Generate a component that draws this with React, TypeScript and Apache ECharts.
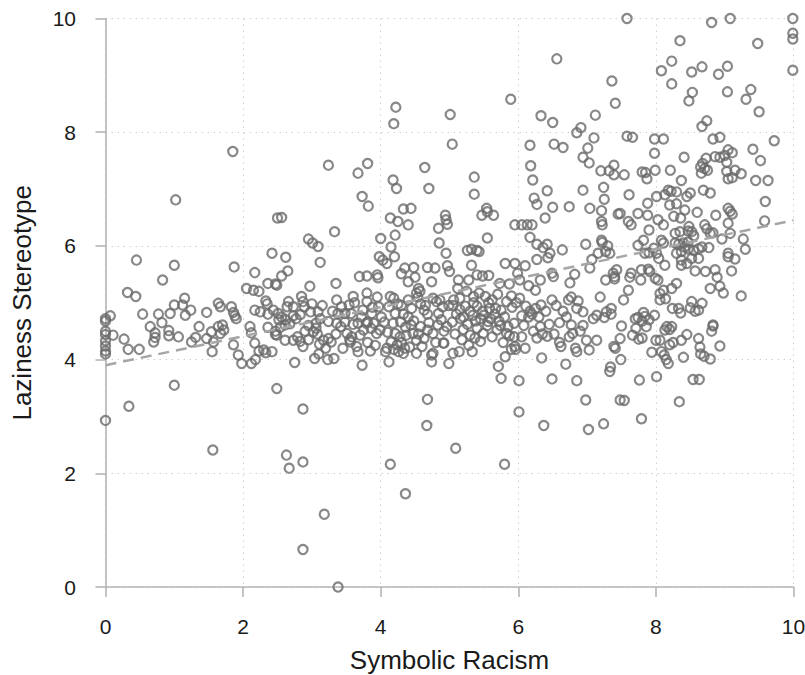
import React, { useEffect, useRef } from "react";
import * as echarts from "echarts";

// Tick values
const xTicks = [0, 2, 4, 6, 8, 10];
const yTicks = [0, 2, 4, 6, 8, 10];

// Observations grouped by Symbolic Racism range: [symbolicRacism, lazinessStereotype]
const groupA: number[][] = [
  [0,2.93],[0,4.10],[0,4.15],[0,4.24],[0,4.33],[0,4.44],[0,4.50],[0,4.68],[0,4.72],[0.07,4.77],[0.11,4.43],[0.34,3.18],[0.27,4.36],[0.33,4.18],[0.49,4.18],[0.32,5.18],[0.44,5.11],[0.45,5.75],[0.54,4.80],[0.65,4.58],[0.72,4.47],[0.70,4.31],[0.72,4.39],[0.77,4.80],[0.82,4.65],[0.94,4.81],[0.92,4.51],[0.92,4.42],[1.06,4.40],[1.0,4.96],[1.12,4.96],[1.15,5.08],[1.16,4.78],[1.24,4.87],[0.83,5.40],[1.0,5.66],[1.02,6.81],[1.85,7.66],[1.87,5.63],[1.47,4.83],[1.36,4.58],[1.25,4.31],[1.31,4.39],[1.47,4.37],[1.54,4.49],[1.55,4.14],[1.57,4.31],[1.64,4.58],[1.70,4.61],[1.67,4.46],[1.72,4.52],[1.64,4.99],[1.67,4.93],[1.83,4.93],[1.86,4.83],[1.88,4.77],[1.90,4.72],[1.86,4.26],[1.93,4.08],[1.98,3.93],[1.0,3.55],[1.56,2.41],
];
const groupB: number[][] = [
  [2.05,5.25],[2.17,5.53],[2.15,5.22],[2.23,5.20],[2.36,5.34],[2.42,5.87],[2.47,5.33],[2.33,5.03],[2.35,4.98],[2.17,4.87],[2.25,4.84],[2.36,4.80],[2.50,6.49],[2.10,4.58],[2.12,4.47],[2.36,4.57],[2.17,4.29],[2.23,4.15],[2.30,4.17],[2.33,4.12],[2.12,3.93],[2.18,4.00],[2.47,4.50],[2.47,4.44],[2.49,3.49],
  [3.24,7.42],[3.81,7.45],[3.67,7.28],[3.73,6.87],[3.82,6.70],[2.56,6.50],[3.33,6.25],[2.95,6.12],[3.01,6.05],[3.09,5.99],[3.12,5.71],[2.62,5.80],[2.65,5.56],[2.56,5.47],[2.49,5.31],[3.69,5.46],[3.80,5.47],[3.95,5.49],[3.96,5.44],[2.97,5.29],[3.35,5.34],
  [2.87,3.13],[2.63,2.32],[2.67,2.09],[2.87,2.20],[2.75,3.95],[3.73,3.90],[3.18,1.28],[2.87,0.66],[3.38,0.0],
  [2.42,4.14],[2.49,4.43],[2.54,4.57],[2.61,4.34],[2.73,4.34],[2.83,4.32],[2.87,4.23],[2.61,4.61],[2.68,4.63],[2.79,4.40],[3.02,4.49],[3.06,4.55],[3.08,4.45],[3.17,4.34],[3.24,4.37],[3.28,4.31],[3.11,4.27],[3.20,4.20],[3.04,4.02],[3.23,4.00],[3.32,4.02],[3.36,4.64],[3.42,4.58],[3.51,4.46],[3.58,4.40],[3.56,4.31],[3.65,4.23],[3.67,4.14],[3.55,4.35],[3.70,4.43],[3.75,4.52],[3.79,4.64],[3.81,4.30],[3.86,4.55],[3.94,4.46],[3.99,4.52],
  [2.44,4.87],[2.51,4.81],[2.56,4.75],[2.66,5.02],[2.64,4.93],[2.73,4.93],[2.85,5.11],[2.87,5.02],[2.89,4.93],[2.98,4.84],[3.09,4.84],[2.83,4.79],[2.73,4.77],[2.52,4.70],[2.62,4.70],[2.77,4.72],[3.36,5.05],[3.43,4.93],[3.54,4.96],[3.60,5.11],[3.38,4.81],[3.48,4.81],[3.57,4.81],[3.74,4.87],[3.80,5.17],[3.80,5.02],[3.95,5.10],[3.97,4.93],[3.87,4.81],[3.48,4.66],[3.67,4.64],[3.81,4.66],[3.90,4.64],[3.24,4.67],[3.06,4.64],
  [2.95,4.60],[3.12,4.72],[3.30,4.85],[3.15,4.95],[3.00,4.98],[3.45,4.20],[3.60,4.62],[3.72,4.75],[3.35,4.45],[3.10,4.10],[2.95,4.35],[2.90,4.50],[3.62,5.00],[3.88,4.92],[3.92,4.25],[3.85,4.15],
];
const groupC: number[][] = [
  [4.22,8.44],[4.19,8.15],[4.18,7.16],[4.23,7.01],[4.64,7.38],[4.70,7.01],[4.14,6.49],[4.25,6.43],[4.40,6.37],[4.33,6.65],[4.44,6.66],[4.21,6.19],[4.00,6.13],[4.15,5.98],[3.98,5.81],[4.03,5.75],[4.09,5.69],[4.20,5.81],[4.30,5.51],[4.35,5.61],[4.48,5.62],[4.50,5.45],[4.40,5.37],[4.68,5.62],[4.79,5.61],[4.74,5.37],[4.84,6.31],[4.94,6.54],[4.95,6.46],[4.97,6.38],[4.85,6.05],[4.95,5.87],[4.97,5.65],[5.0,5.55],[4.55,5.25],[4.57,5.20],[4.12,3.96],[4.14,2.16],[4.68,3.30],[4.67,2.84],[4.74,3.96],[4.74,4.08],[4.36,1.64],
  [4.09,4.20],[4.07,4.14],[4.19,4.18],[4.26,4.14],[4.24,4.26],[4.15,4.31],[4.33,4.11],[4.35,4.20],[4.21,4.46],[4.28,4.40],[4.37,4.43],[4.36,4.57],[4.44,4.61],[4.47,4.46],[4.52,4.34],[4.52,4.11],[4.60,4.23],[4.63,4.37],[4.68,4.52],[4.76,4.46],[4.83,4.61],[4.91,4.29],[4.76,4.11],
  [4.14,5.11],[4.19,5.08],[4.12,4.93],[4.21,4.81],[4.33,4.80],[4.29,4.66],[4.40,4.75],[4.52,5.17],[4.54,5.10],[4.63,4.87],[4.68,4.80],[4.76,5.08],[4.81,5.02],[4.86,5.05],[4.84,4.81],[4.90,4.93],[4.01,4.75],[4.05,4.66],[4.18,4.64],[4.48,4.68],[4.58,4.98],[4.30,4.95],[4.45,4.90],
  [4.10,4.48],[4.30,4.30],[4.42,4.22],[4.58,4.58],[4.70,4.65],[4.88,4.70],[4.65,4.95],[4.40,5.05],[4.25,4.98],[4.92,4.50],[4.80,4.30],[4.55,4.45],
];
const groupD: number[][] = [
  [5.01,8.31],[5.04,7.79],[5.89,8.58],[5.36,7.21],[5.36,6.91],[5.54,6.66],[5.47,6.54],[5.64,6.54],[5.55,6.60],[5.95,6.37],[5.55,6.14],[5.26,5.92],[5.32,5.94],[5.40,5.92],[5.43,5.90],[5.32,5.66],[5.81,5.69],[5.95,5.69],[5.99,5.52],[5.13,5.40],[5.28,5.40],[5.40,5.49],[5.48,5.47],[5.57,5.48],[5.73,5.34],[5.87,5.33],
  [4.99,3.93],[5.05,4.11],[5.14,4.14],[5.33,4.14],[4.92,4.29],[5.71,3.88],[5.75,3.67],[5.81,4.05],[5.09,2.44],[5.80,2.16],
  [4.96,4.58],[5.04,4.66],[5.16,4.72],[5.20,4.53],[5.26,4.62],[5.34,4.78],[5.40,4.55],[5.30,4.43],[5.37,4.38],[5.45,4.32],[5.49,4.46],[5.55,4.60],[5.60,4.72],[5.56,4.67],[5.66,4.80],[5.83,4.46],[5.87,4.42],[5.94,4.40],[5.95,4.23],[5.90,4.18],[5.96,4.18],[5.94,4.64],[5.74,4.60],[5.69,4.52],
  [5.06,5.05],[5.15,5.08],[5.35,5.11],[5.43,5.17],[5.52,5.11],[5.57,5.00],[5.40,4.94],[5.23,4.94],[5.15,4.88],[4.99,4.95],[5.83,5.02],[5.91,4.92],[5.97,5.00],[5.67,4.90],[5.75,4.87],[5.48,4.85],[5.30,4.85],[5.62,5.05],[5.10,4.80],[5.20,4.75],[5.45,4.72],[5.80,4.75],[5.70,5.15],[5.25,5.20],
  [5.08,4.45],[5.18,4.35],[5.28,4.25],[5.38,4.68],[5.50,4.78],[5.62,4.40],[5.78,4.30],[5.85,4.58],[5.05,4.95],[5.35,5.00],[5.58,4.90],[5.72,4.68],[5.12,5.25],[5.90,5.12],
];
const groupE: number[][] = [
  [6.56,9.29],[6.33,8.29],[6.50,8.17],[6.91,8.08],[6.85,7.99],[6.17,7.77],[6.52,7.79],[6.65,7.73],[7.01,7.72],[6.94,7.56],[7.03,7.46],[6.18,7.41],[6.21,7.16],[6.23,6.84],[6.27,6.73],[6.42,6.97],[6.50,6.68],[6.74,6.69],[6.94,6.98],[7.04,6.66],[6.05,6.37],[6.13,6.37],[6.20,6.37],[6.39,6.49],[6.17,6.15],[6.27,6.03],[6.36,5.97],[6.42,6.03],[6.46,5.87],[6.64,5.93],[6.98,6.03],[6.10,5.65],[6.27,5.76],[6.43,5.79],[6.02,5.40],[6.32,5.40],[6.51,5.46],[6.49,5.52],[6.75,5.35],[6.82,5.50],[7.04,5.61],[7.07,5.76],[6.73,5.05],[6.77,5.10],[6.87,5.03],[6.94,4.84],[6.49,5.05],[6.15,5.30],[6.25,5.22],[6.02,5.08],[6.11,4.94],
  [6.01,3.63],[6.01,3.08],[6.34,4.03],[6.49,3.66],[6.37,2.84],[6.69,3.92],[6.85,3.63],[6.98,3.29],[7.02,2.77],[6.62,4.23],[6.85,4.14],[6.83,4.20],[7.03,4.17],
  [6.05,4.77],[6.15,4.75],[6.20,4.80],[6.32,4.58],[6.22,4.50],[6.27,4.38],[6.42,4.41],[6.35,4.45],[6.17,4.85],[6.33,4.96],[6.25,4.90],[6.70,4.75],[6.77,4.61],[6.79,4.46],[6.74,4.40],[6.94,4.60],[6.99,4.34],[6.60,4.65],[6.55,4.95],[6.65,4.85],[6.05,4.40],[6.10,4.20],[6.45,4.62],
  [6.08,4.60],[6.30,4.75],[6.40,4.85],[6.52,4.45],[6.60,4.30],[6.85,4.90],[6.90,4.50],
];
const groupF: number[][] = [
  [7.36,8.90],[7.41,8.51],[7.12,8.30],[7.10,7.90],[7.58,10.0],[7.58,7.93],[7.66,7.91],[7.98,7.88],[7.98,7.63],[7.20,7.32],[7.32,7.32],[7.39,7.42],[7.39,7.25],[7.24,7.03],[7.25,6.82],[7.21,6.62],[7.45,6.56],[7.21,6.43],[7.22,6.37],[7.21,6.10],[7.22,6.06],[7.16,5.87],[7.27,5.90],[7.27,5.40],[7.40,5.46],[7.38,5.52],[7.19,5.10],[7.28,4.84],[7.35,4.90],
  [7.33,3.79],[7.34,3.87],[7.24,2.87],[7.48,3.29],[7.39,4.23],[7.09,4.72],[7.14,4.34],[7.25,4.74],[7.14,4.78],[7.35,4.80],
  [7.76,3.64],[7.54,3.28],[7.79,2.96],[7.49,4.00],[7.41,4.20],[7.48,4.37],[7.66,4.43],[7.71,4.55],[7.75,4.36],[7.80,4.38],[7.50,4.59],[7.86,4.58],[7.94,4.13],
  [7.54,7.25],[7.85,7.29],[7.87,7.18],[7.80,7.30],[7.99,7.33],[7.61,6.90],[7.88,6.75],
  [7.43,5.58],[7.40,5.42],[7.53,5.05],[7.60,5.22],[7.62,5.45],[7.64,5.52],[7.78,5.40],[7.79,5.58],[7.89,5.59],[7.91,5.55],[7.99,5.43],[7.82,4.83],[7.74,4.74],[7.70,4.72],[7.84,4.76],[7.98,4.78],[7.90,4.70],[7.80,4.68],
  [7.60,6.43],[7.64,6.37],[7.48,6.57],[7.74,6.57],[7.88,6.54],[7.90,6.28],[7.82,6.10],[7.74,6.01],[7.84,5.87],[7.90,5.88],[7.33,5.87],[7.30,6.00],
];
const groupG: number[][] = [
  [8.35,9.61],[8.23,9.25],[8.08,9.08],[8.23,8.85],[8.52,9.06],[8.67,9.15],[8.91,9.02],[8.81,9.93],[8.53,8.70],[8.48,8.55],[8.74,8.20],[8.67,8.10],[8.11,7.88],[8.41,7.56],[8.83,7.88],[8.93,7.91],[8.86,7.57],[8.73,7.54],[8.93,7.56],[8.71,7.36],[8.65,7.39],[8.66,7.28],[8.75,7.33],[8.68,7.45],[8.37,7.15],[8.21,7.33],[8.01,6.87],[8.18,6.98],[8.22,6.96],[8.30,6.95],[8.50,6.93],[8.69,6.98],[8.79,6.93],
  [8.01,3.70],[8.34,3.26],[8.54,3.65],[8.63,3.65],[8.40,4.04],[8.93,4.24],[8.79,4.01],[8.70,4.06],[8.65,4.10],[8.83,4.59],[8.81,4.50],[8.62,4.37],[8.64,4.22],[8.45,4.44],[8.37,4.34],[8.25,4.30],[8.20,4.26],[8.18,3.93],[8.15,4.00],[8.12,4.08],[8.08,4.14],[8.00,4.34],[8.06,4.34],[8.13,4.52],[8.20,4.53],
  [8.87,6.54],[8.98,5.17],[8.93,5.29],[8.79,5.25],[8.86,5.58],[8.89,5.45],[8.79,6.22],[8.83,6.23],[8.74,6.30],[8.71,6.37],[8.60,6.59],[8.52,6.25],[8.48,6.34],[8.72,5.55],[8.57,5.56],[8.67,4.99],[8.52,5.02],[8.50,4.91],[8.57,4.85],[8.62,4.87],[8.33,4.90],[8.36,4.82],[8.24,4.90],[8.30,5.34],[8.23,5.25],[8.11,5.22],[8.06,5.16],[8.14,5.07],[8.06,5.05],[8.03,5.40],[8.16,4.58],[8.23,4.58],[8.83,4.61],[8.37,5.66],[8.45,5.69],[8.13,5.66],[8.37,5.90],[8.30,5.87],[8.42,5.98],[8.47,5.95],[8.55,5.92],[8.62,5.95],[8.67,5.98],[8.77,5.97],[8.28,6.05],[8.33,6.03],[8.40,6.05],[8.47,6.07],[8.37,5.75],[8.52,5.78],[8.62,5.78],[8.01,5.87],[8.04,5.78],[7.97,5.96],[8.08,6.10],[8.11,6.05],[8.03,6.46],[8.11,6.37],[8.13,6.90],[8.20,6.72],[8.30,6.74],[8.26,6.52],[8.36,6.49],[8.42,6.63],[8.45,6.87],[8.28,6.22],[8.35,6.25],[8.47,6.26],[8.55,6.18],
];
const groupH: number[][] = [
  [9.08,10.0],[9.99,10.0],[9.99,9.74],[9.99,9.64],[9.99,9.09],[9.48,9.56],[9.04,9.16],[9.04,8.71],[9.38,8.75],[9.31,8.58],[9.50,8.36],[9.72,7.85],[9.41,7.70],[9.52,7.50],[9.05,7.69],[9.11,7.64],[9.00,7.59],[9.03,7.47],[9.03,7.31],[9.15,7.33],[9.24,7.27],[9.11,7.20],[9.05,7.18],[9.45,7.15],[9.63,7.15],[9.59,6.78],[9.58,6.44],[9.27,6.12],[9.30,5.94],[9.24,5.12],[9.05,6.66],[9.08,6.61],[9.11,6.56],[9.05,6.40],[9.08,6.22],[8.96,6.12],[9.05,5.87],[9.05,5.81],[9.15,5.77],[9.10,5.56],
];

// Fitted linear prediction endpoints
const fitLine: number[][] = [[0, 3.9], [10, 6.45]];

const allPoints = [...groupA, ...groupB, ...groupC, ...groupD, ...groupE, ...groupF, ...groupG, ...groupH];

const FONT = "'Liberation Sans', Arial, Helvetica, sans-serif";
const TEXT = "#1a1a1a";
const AXIS = "#b5b5b5";

export default function App() {
  const ref = useRef<HTMLDivElement>(null);
  useEffect(() => {
    if (!ref.current) return;
    document.documentElement.style.overflow = "hidden";
    document.body.style.margin = "0";
    document.body.style.overflow = "hidden";
    const chart = echarts.init(ref.current, undefined, { renderer: "svg" });
    chart.setOption({
      animation: false,
      backgroundColor: "#ffffff",
      grid: {
        left: 105.5,
        right: 11.5,
        top: 18.5,
        bottom: 88,
        containLabel: false,
        outerBoundsMode: "none",
      },
      xAxis: {
        type: "value",
        min: xTicks[0],
        max: xTicks[xTicks.length - 1],
        interval: 2,
        offset: 16,
        name: "Symbolic Racism",
        nameLocation: "middle",
        nameGap: 44,
        nameTextStyle: { fontSize: 26, color: TEXT, fontFamily: FONT },
        axisLine: { show: true, lineStyle: { color: AXIS, width: 1.6 } },
        axisTick: { show: true, length: 10, lineStyle: { color: AXIS, width: 1.6 } },
        axisLabel: { fontSize: 21, color: TEXT, fontFamily: FONT, margin: 13 },
        splitLine: { show: true, lineStyle: { color: "#cfcfcf", width: 1, type: [1.5, 4.5] } },
      },
      yAxis: {
        type: "value",
        min: yTicks[0],
        max: yTicks[yTicks.length - 1],
        interval: 2,
        offset: 15.5,
        name: "Laziness Stereotype",
        nameLocation: "middle",
        nameGap: 55,
        nameTextStyle: { fontSize: 26, color: TEXT, fontFamily: FONT },
        axisLine: { show: true, lineStyle: { color: AXIS, width: 1.6 } },
        axisTick: { show: true, length: 10, lineStyle: { color: AXIS, width: 1.6 } },
        axisLabel: { fontSize: 21, color: TEXT, fontFamily: FONT, margin: 14 },
        splitLine: { show: true, lineStyle: { color: "#cfcfcf", width: 1, type: [1.5, 4.5] } },
      },
      series: [
        {
          type: "scatter",
          data: allPoints,
          symbol: "circle",
          symbolSize: 9.2,
          itemStyle: { color: "rgba(0,0,0,0)", borderColor: "#6a6a6a", borderWidth: 2.2 },
          silent: true,
        },
        {
          type: "line",
          data: fitLine,
          symbol: "none",
          lineStyle: { color: "#a6a6a6", width: 2.5, type: [11, 7] },
          silent: true,
          z: 3,
        },
      ],
    });
    return () => chart.dispose();
  }, []);
  return (
    <div
      ref={ref}
      style={{ position: "fixed", left: 0, top: 0, width: 805, height: 675, overflow: "hidden", background: "#fff" }}
    />
  );
}
